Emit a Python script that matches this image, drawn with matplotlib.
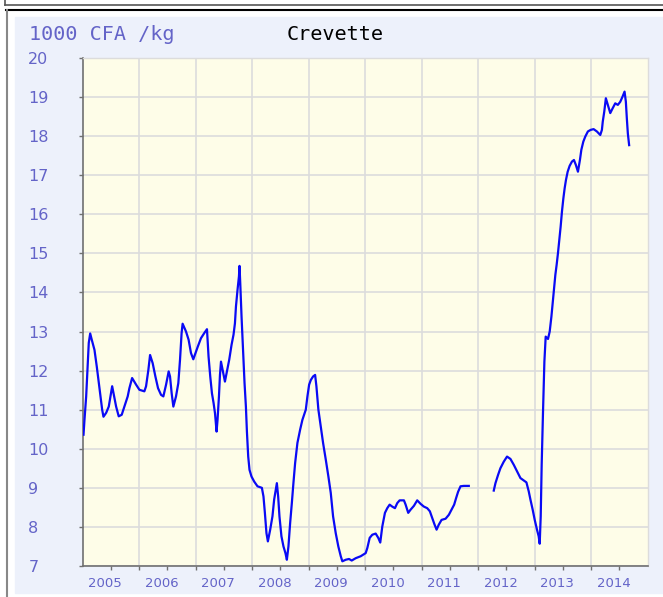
import numpy as np
import matplotlib
matplotlib.use("Agg")
import matplotlib.pyplot as plt
from matplotlib.patches import Rectangle
from matplotlib.lines import Line2D
from matplotlib.transforms import ScaledTranslation

# price of shrimp, 1000 CFA per kg (decimal year, value)
years_a = [2005.018, 2005.035, 2005.065, 2005.088, 2005.111, 2005.136, 2005.164, 2005.212, 2005.253,
           2005.288, 2005.318, 2005.348, 2005.371, 2005.419, 2005.465, 2005.495, 2005.525, 2005.560,
           2005.595, 2005.641, 2005.694, 2005.742, 2005.800, 2005.830, 2005.878, 2005.949, 2006.007,
           2006.095, 2006.125, 2006.166, 2006.196, 2006.242, 2006.290, 2006.337, 2006.390, 2006.431,
           2006.479, 2006.525, 2006.549, 2006.578, 2006.608, 2006.655, 2006.696, 2006.726, 2006.754,
           2006.772, 2006.832, 2006.878, 2006.920, 2006.961, 2007.037, 2007.097, 2007.155, 2007.203,
           2007.231, 2007.261, 2007.291, 2007.320, 2007.345, 2007.373, 2007.390, 2007.415, 2007.433,
           2007.451, 2007.479, 2007.521, 2007.557, 2007.597, 2007.638, 2007.673, 2007.698, 2007.716,
           2007.744, 2007.769, 2007.779, 2007.792, 2007.815, 2007.845, 2007.868, 2007.892, 2007.910,
           2007.933, 2007.956, 2007.991, 2008.039, 2008.097, 2008.175, 2008.203, 2008.228, 2008.256,
           2008.281, 2008.322, 2008.362, 2008.392, 2008.440, 2008.463, 2008.486, 2008.521, 2008.557,
           2008.592, 2008.617, 2008.645, 2008.675, 2008.705, 2008.733, 2008.763, 2008.804, 2008.852,
           2008.892, 2008.952, 2008.981, 2009.011, 2009.041, 2009.081, 2009.117, 2009.140, 2009.175,
           2009.217, 2009.258, 2009.306, 2009.352, 2009.394, 2009.435, 2009.482, 2009.528, 2009.571,
           2009.599, 2009.659, 2009.717, 2009.765, 2009.836, 2009.924, 2010.012, 2010.041, 2010.083,
           2010.129, 2010.189, 2010.235, 2010.270, 2010.306, 2010.353, 2010.394, 2010.436, 2010.482,
           2010.530, 2010.571, 2010.613, 2010.689, 2010.719, 2010.765, 2010.806, 2010.866, 2010.924,
           2010.984, 2011.042, 2011.101, 2011.148, 2011.189, 2011.231, 2011.267, 2011.307, 2011.355,
           2011.426, 2011.484, 2011.532, 2011.578, 2011.613, 2011.648, 2011.691, 2011.749, 2011.837]
prices_a = [10.36, 10.74, 11.34, 12.02, 12.71, 12.95, 12.79, 12.53, 12.10,
            11.69, 11.34, 11.00, 10.82, 10.92, 11.08, 11.34, 11.60, 11.34,
            11.08, 10.83, 10.87, 11.08, 11.34, 11.55, 11.81, 11.64, 11.51,
            11.47, 11.60, 12.02, 12.40, 12.19, 11.85, 11.55, 11.38, 11.34,
            11.64, 11.98, 11.85, 11.42, 11.08, 11.34, 11.68, 12.28, 12.96,
            13.20, 13.00, 12.79, 12.45, 12.29, 12.60, 12.83, 12.96, 13.06,
            12.36, 11.85, 11.42, 11.17, 10.91, 10.44, 10.74, 11.34, 11.89,
            12.23, 12.02, 11.72, 11.98, 12.28, 12.66, 12.92, 13.21, 13.64,
            14.07, 14.41, 14.68, 14.24, 13.38, 12.45, 11.68, 11.08, 10.44,
            9.80, 9.46, 9.29, 9.16, 9.04, 9.00, 8.78, 8.36, 7.84,
            7.63, 7.93, 8.27, 8.70, 9.12, 8.78, 8.27, 7.76, 7.50,
            7.33, 7.16, 7.50, 8.10, 8.61, 9.12, 9.63, 10.15, 10.49,
            10.74, 11.00, 11.34, 11.64, 11.76, 11.85, 11.89, 11.60, 11.00,
            10.57, 10.15, 9.72, 9.29, 8.87, 8.27, 7.84, 7.50, 7.25,
            7.12, 7.16, 7.18, 7.14, 7.20, 7.25, 7.33, 7.46, 7.72,
            7.80, 7.83, 7.72, 7.60, 8.01, 8.36, 8.48, 8.57, 8.52,
            8.48, 8.61, 8.68, 8.68, 8.57, 8.36, 8.44, 8.54, 8.68,
            8.59, 8.52, 8.48, 8.40, 8.23, 8.06, 7.93, 8.06, 8.18,
            8.21, 8.31, 8.44, 8.57, 8.74, 8.90, 9.04, 9.05, 9.05]

years_b = [2012.279, 2012.309, 2012.355, 2012.396, 2012.456, 2012.514, 2012.574, 2012.633, 2012.691,
           2012.751, 2012.809, 2012.857, 2012.898, 2012.928, 2012.968, 2013.004, 2013.044, 2013.074,
           2013.092, 2013.110, 2013.127, 2013.150, 2013.175, 2013.198, 2013.239, 2013.269, 2013.299,
           2013.322, 2013.345, 2013.369, 2013.392, 2013.415, 2013.440, 2013.463, 2013.486, 2013.511,
           2013.534, 2013.557, 2013.587, 2013.622, 2013.663, 2013.698, 2013.733, 2013.769, 2013.804,
           2013.829, 2013.864, 2013.899, 2013.945, 2013.993, 2014.046, 2014.104, 2014.164, 2014.193,
           2014.208, 2014.235, 2014.263, 2014.297, 2014.341, 2014.382, 2014.429, 2014.475, 2014.518,
           2014.558, 2014.594, 2014.617, 2014.634, 2014.652, 2014.675]
prices_b = [8.93, 9.12, 9.33, 9.50, 9.67, 9.80, 9.74, 9.59, 9.42,
            9.25, 9.19, 9.14, 8.91, 8.70, 8.44, 8.18, 7.93, 7.76,
            7.57, 8.27, 9.59, 10.91, 12.23, 12.87, 12.81, 13.00, 13.38,
            13.73, 14.07, 14.45, 14.71, 15.00, 15.35, 15.69, 16.07, 16.41,
            16.67, 16.88, 17.09, 17.24, 17.35, 17.39, 17.26, 17.09, 17.39,
            17.65, 17.86, 17.99, 18.12, 18.16, 18.18, 18.12, 18.03, 18.16,
            18.37, 18.63, 18.97, 18.80, 18.59, 18.71, 18.84, 18.80, 18.88,
            19.01, 19.14, 18.88, 18.46, 18.07, 17.77]

year_labels = [str(y) for y in range(2005, 2015)]
y_ticks = list(range(7, 21))

title = "Crevette"
unit = "1000 CFA /kg"

W, H = 663, 597
label_color = "#6464c8"
grid_color = "#dcdcdc"
axis_color = "#707070"


def fx(x):
    return x / W


def fy(y):
    return 1 - y / H


fig = plt.figure(figsize=(W / 100, H / 100), dpi=100, facecolor="white")

# frame and panel background
fig.add_artist(Rectangle((fx(15), fy(593)), fx(W) - fx(15), fy(17) - fy(593),
                         transform=fig.transFigure, color="#edf1fb", zorder=0))
fig.add_artist(Line2D([fx(5), fx(W)], [fy(5), fy(5)], color="#555555", lw=1.2))
fig.add_artist(Line2D([fx(5), fx(5)], [fy(0), fy(5)], color="#555555", lw=1.2))
fig.add_artist(Line2D([fx(6), fx(W)], [fy(10), fy(10)], color="black", lw=1.5))
fig.add_artist(Line2D([fx(7), fx(7)], [fy(10), fy(H)], color="#888888", lw=1.5))

ax = fig.add_axes([fx(82.5), fy(566), fx(647.5) - fx(82.5), fy(58) - fy(566)])
ax.set_facecolor("#fefde8")

t = years_a + [np.nan] + years_b
v = prices_a + [np.nan] + prices_b
ax.plot(t, v, color="#0a0af5", lw=1.6, zorder=3)

ax.set_xlim(2005, 2015)
ax.set_ylim(7, 20)

ax.set_xticks(range(2006, 2015))
ax.set_xticklabels([])
ax.set_xticks([y + 0.5 for y in range(2005, 2015)], minor=True)
ax.set_xticklabels(year_labels, minor=True, fontsize=9.5, color=label_color)
ax.set_yticks(y_ticks)
ax.set_yticklabels([str(y) for y in y_ticks], fontsize=11.5, color=label_color)

ax.tick_params(axis="both", which="both", length=3, width=1, color=axis_color)
ax.tick_params(axis="x", which="minor", pad=5)
ax.tick_params(axis="y", pad=36)
for lbl in ax.get_yticklabels():
    lbl.set_horizontalalignment("left")
offset = ScaledTranslation(-4 / 72, 0, fig.dpi_scale_trans)
for lbl in ax.xaxis.get_minorticklabels():
    lbl.set_transform(lbl.get_transform() + offset)

ax.grid(True, which="major", color=grid_color, lw=1.2, zorder=1)
ax.set_axisbelow(True)
for side in ["left", "bottom"]:
    ax.spines[side].set_color(axis_color)
    ax.spines[side].set_linewidth(1.2)
for side in ["top", "right"]:
    ax.spines[side].set_color(grid_color)
    ax.spines[side].set_linewidth(1.0)

fig.text(fx(29), fy(35), unit, fontsize=14.5, family="DejaVu Sans Mono",
         color=label_color, va="center", ha="left")
fig.text(fx(287), fy(35), title, fontsize=14.5, family="DejaVu Sans Mono",
         color="black", va="center", ha="left")

fig.savefig("out.png", dpi=100, facecolor="white")
